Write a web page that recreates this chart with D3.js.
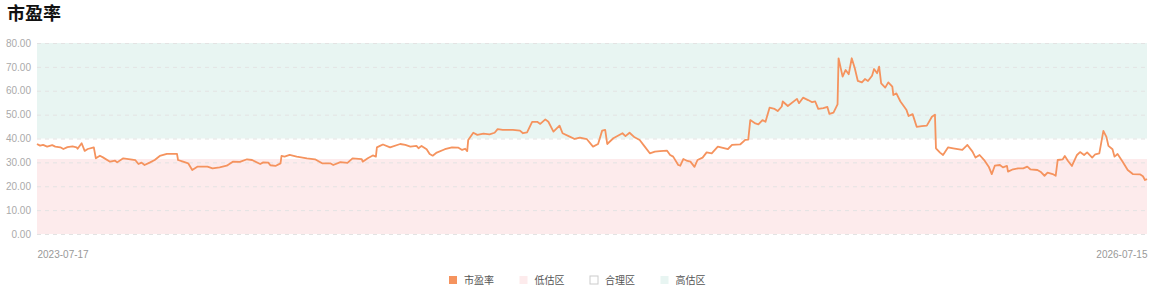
<!DOCTYPE html>
<html>
<head>
<meta charset="utf-8">
<script src="https://cdn.jsdelivr.net/npm/d3@7"></script>
<style>
body { margin: 0; background: #fff; font-family: "Noto Sans CJK SC", "Noto Sans", sans-serif; }
</style>
</head>
<body>
<div id="chart"></div>
<script>
// data
const startDate = "2023-07-17"
const endDate = "2026-07-15"
// days after startDate for every point
const dayOffsets = [0,3,6,10,15,18,23,26,30,35,39,40,44,47,50,56,58,62,65,72,77,79,85,92,97,100,103,106,111,116,121,128,138,139,144,149,153,158,168,173,180,187,193,200,207,212,220,223,228,230,235,240,241,244,249,256,266,274,281,289,292,299,306,311,320,321,326,331,334,335,338,341,348,358,363,368,374,376,379,384,387,390,394,402,409,415,419,422,424,425,430,434,440,446,451,454,459,469,476,479,483,488,493,496,501,504,509,515,518,525,530,535,542,548,553,557,560,562,568,577,580,584,589,594,599,604,609,614,621,624,627,632,634,637,641,644,648,651,656,660,665,671,678,681,685,693,698,701,703,708,711,715,718,722,727,730,734,735,740,749,751,755,760,764,767,770,775,779,781,785,789,790,794,797,800,803,806,809,813,816,819,823,825,828,830,832,836,839,843,844,847,851,857,859,863,867,872,877,882,885,886,890,893,898,903,912,917,922,925,929,934,938,941,944,949,952,956,957,962,967,972,976,979,986,989,993,996,1001,1004,1006,1011,1013,1016,1020,1025,1028,1032,1035,1040,1043,1047,1051,1054,1056,1060,1062,1065,1070,1075,1080,1087,1090,1092,1094]
const peValues = [37.7,37.0,37.3,36.6,37.2,36.6,36.3,35.6,36.4,36.7,36.3,35.7,38.0,34.8,35.6,36.3,31.7,32.8,32.1,30.3,30.7,30.0,31.7,31.3,30.9,29.3,29.9,28.9,29.9,31.0,32.7,33.6,33.6,31.0,30.3,29.6,26.8,28.2,28.2,27.5,27.9,28.6,30.3,30.2,31.3,31.0,29.3,30.0,29.9,28.8,28.5,29.6,32.7,32.4,33.1,32.4,31.7,31.3,29.6,29.6,28.9,30.1,29.8,31.7,31.4,30.3,31.7,32.9,32.4,36.3,36.9,37.5,36.3,37.7,37.3,36.6,36.9,35.9,36.9,35.5,33.5,32.8,34.1,35.5,36.3,36.2,35.2,35.7,34.7,39.4,42.4,41.5,42.0,41.7,42.4,43.9,43.6,43.6,43.3,42.2,42.6,47.0,47.0,46.1,48.0,47.0,42.9,45.4,42.2,40.8,39.8,40.4,39.7,36.6,37.7,43.3,43.6,37.7,40.1,42.2,41.0,42.4,40.5,39.4,36.6,33.8,34.5,34.7,34.9,33.1,32.4,28.9,28.6,31.4,30.6,30.3,28.1,31.0,32.0,34.2,33.8,36.6,35.9,35.6,37.3,37.5,39.4,39.5,47.7,46.3,45.9,47.7,47.0,52.9,52.4,51.5,53.4,55.5,53.6,56.6,54.8,57.1,56.1,55.2,55.5,52.4,52.7,53.2,50.3,50.8,54.3,73.6,65.9,68.7,66.9,73.6,69.4,64.1,63.5,64.9,64.1,66.3,69.1,67.3,70.1,63.1,61.3,63.5,61.7,58.2,58.9,55.5,51.9,49.4,50.2,44.9,45.2,45.4,49.1,50.0,35.9,34.1,33.1,36.3,35.9,35.2,37.3,34.5,32.0,33.1,30.7,28.2,25.1,28.6,28.9,27.9,28.5,26.1,27.1,27.5,27.5,28.2,27.1,26.8,26.1,24.4,25.7,25.1,24.4,31.0,31.3,32.7,30.7,28.5,33.1,34.3,33.1,34.2,32.0,33.4,33.8,43.2,40.7,36.9,35.5,32.4,33.5,30.3,26.8,25.1,25.0,24.2,22.6,23.0]
const lowBand = [0, 31.4]
const highBand = [40, 80]
const yTicks = [0, 10, 20, 30, 40, 50, 60, 70, 80]
const legendLabels = ["市盈率", "低估区", "合理区", "高估区"]
const title = "市盈率"

const width = 1154
const height = 291
const margin = {top: 43, right: 7, bottom: 57, left: 37}
const colors = {line: "#f5935e", low: "#fdebec", mid: "#ffffff", high: "#e8f5f2"}

var svg, xScale, yScale

createChart()

function createChart()
{
    var parse = d3.timeParse("%Y-%m-%d")
    var t0 = parse(startDate)
    var data = dayOffsets.map((d, i) => ({date: d3.timeDay.offset(t0, d), value: peValues[i]}))

    xScale = d3.scaleTime()
        .domain([t0, parse(endDate)])
        .range([margin.left, width - margin.right])
    yScale = d3.scaleLinear()
        .domain([0, 80])
        .range([height - margin.bottom, margin.top])

    svg = d3.select("#chart")
        .append("svg")
        .attr("width", width)
        .attr("height", height)
        .attr("display", "block")

    svg.append("text")
        .attr("x", 7)
        .attr("y", 20)
        .attr("font-size", 18)
        .attr("font-weight", "bold")
        .attr("fill", "#111")
        .text(title)

    // valuation bands
    var bandRows = [{r: lowBand, c: colors.low}, {r: highBand, c: colors.high}]
    svg.append("g").selectAll("rect")
        .data(bandRows)
        .join("rect")
        .attr("x", margin.left)
        .attr("width", width - margin.left - margin.right)
        .attr("y", d => yScale(d.r[1]))
        .attr("height", d => yScale(d.r[0]) - yScale(d.r[1]))
        .attr("fill", d => d.c)

    // y axis + dashed grid
    var yAxis = d3.axisLeft(yScale)
        .tickValues(yTicks)
        .tickFormat(d3.format(".2f"))
        .tickSize(-(width - margin.left - margin.right))
        .tickPadding(6)
    var gy = svg.append("g")
        .attr("transform", "translate(" + margin.left + ",0)")
        .call(yAxis)
    gy.select(".domain").remove()
    gy.selectAll("line")
        .attr("stroke", "#e3e3e3")
        .attr("stroke-dasharray", "4,4")
    gy.selectAll("text")
        .attr("fill", "#aaa")
        .attr("font-size", 10)
        .attr("font-family", "Liberation Sans, Arial, sans-serif")

    // x axis, end labels only
    var xAxis = d3.axisBottom(xScale)
        .tickValues(xScale.domain())
        .tickFormat(d3.timeFormat("%Y-%m-%d"))
        .tickSize(0)
        .tickPadding(17)
    var gx = svg.append("g")
        .attr("transform", "translate(0," + (height - margin.bottom) + ")")
        .call(xAxis)
    gx.select(".domain").remove()
    gx.selectAll("text")
        .attr("fill", "#999")
        .attr("font-size", 10)
        .attr("font-family", "Liberation Sans, Arial, sans-serif")
        .attr("text-anchor", (d, i) => i == 0 ? "start" : "end")

    var line = d3.line()
        .x(d => xScale(d.date))
        .y(d => yScale(d.value))
    svg.append("path")
        .datum(data)
        .attr("fill", "none")
        .attr("stroke", colors.line)
        .attr("stroke-width", 1.8)
        .attr("stroke-linejoin", "round")
        .attr("d", line)

    // legend
    var legendColors = [colors.line, colors.low, colors.mid, colors.high]
    var legend = svg.append("g")
        .attr("transform", "translate(449,276)")
    var item = legend.selectAll("g")
        .data(legendLabels)
        .join("g")
        .attr("transform", (d, i) => "translate(" + (i * 70.5) + ",0)")
    item.append("rect")
        .attr("width", 8)
        .attr("height", 8)
        .attr("fill", (d, i) => legendColors[i])
        .attr("stroke", (d, i) => i == 2 ? "#ccc" : "none")
    item.append("text")
        .attr("x", 15)
        .attr("y", 8)
        .attr("font-size", 10)
        .attr("fill", "#555")
        .text(d => d)
}
</script>
</body>
</html>
